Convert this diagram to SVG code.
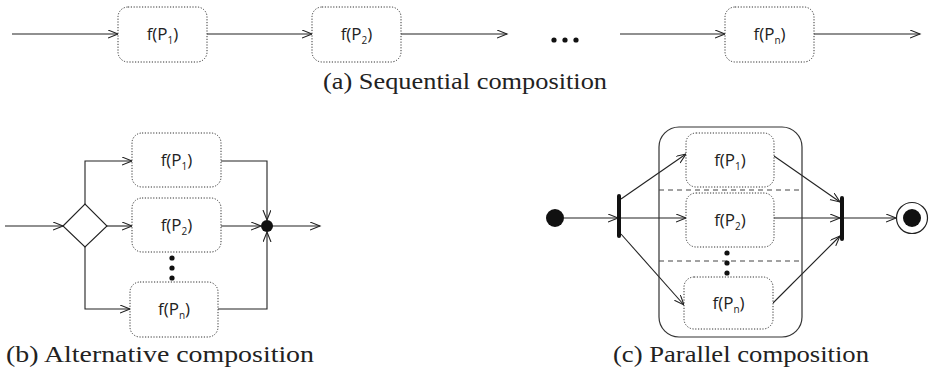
<svg xmlns="http://www.w3.org/2000/svg" width="930" height="375" viewBox="0 0 930 375">
<style>
.box{fill:#fff;stroke:#333;stroke-width:1;stroke-dasharray:1.2,1.6}
.lbl{font-family:"Open Sans","DejaVu Sans",sans-serif;font-size:17px;fill:#222;text-anchor:middle}
.sub{font-size:10px}
.ln{fill:none;stroke:#222;stroke-width:1.1;marker-end:url(#ah)}
.cap{font-family:"Liberation Serif","DejaVu Serif",serif;font-size:23px;fill:#222}
.dot{fill:#111}
</style>
<defs>
<marker id="ah" markerWidth="12" markerHeight="10" refX="10" refY="4" orient="auto" markerUnits="userSpaceOnUse">
<path d="M0,0 L10,4 L0,8" fill="none" stroke="#222" stroke-width="1.1"/>
</marker>
</defs>
<rect width="930" height="375" fill="#fff"/>

<g id="connectors">
<path class="ln" d="M12,34 H118"/>
<path class="ln" d="M207,34 H312"/>
<path class="ln" d="M401,34 H507"/>
<path class="ln" d="M620,34 H725"/>
<path class="ln" d="M814,34 H920"/>

<path class="ln" d="M5,226 H63"/>
<path class="ln" d="M85,204 V161 H132"/>
<path class="ln" d="M107,226 H132"/>
<path class="ln" d="M85,247 V309 H130"/>
<path class="ln" d="M221,161 H267 V220"/>
<path class="ln" d="M221,226 H261"/>
<path class="ln" d="M218,309 H267 V232"/>
<path class="ln" d="M267,226 H320"/>

<path class="ln" d="M564,218 H618"/>
<path class="ln" d="M621,199 L686,154"/>
<path class="ln" d="M621,218 H686"/>
<path class="ln" d="M621,234 L684,305"/>
<path class="ln" d="M774,156 L840,202"/>
<path class="ln" d="M774,218 H840"/>
<path class="ln" d="M773,303 L840,236"/>
<path class="ln" d="M844,218 H896"/>
</g>

<g id="seq-p1"><rect class="box" x="118" y="7" width="89" height="55" rx="10"/><text class="lbl" x="162.5" y="40">f(P<tspan class="sub" dy="4">1</tspan><tspan dy="-4">)</tspan></text></g>
<g id="seq-p2"><rect class="box" x="312" y="7" width="89" height="55" rx="10"/><text class="lbl" x="356.5" y="40">f(P<tspan class="sub" dy="4">2</tspan><tspan dy="-4">)</tspan></text></g>
<g id="seq-dots"><circle class="dot" cx="554" cy="40" r="2.6"/><circle class="dot" cx="565" cy="40" r="2.6"/><circle class="dot" cx="576" cy="40" r="2.6"/></g>
<g id="seq-pn"><rect class="box" x="725" y="7" width="89" height="55" rx="10"/><text class="lbl" x="769.5" y="40">f(P<tspan class="sub" dy="4">n</tspan><tspan dy="-4">)</tspan></text></g>
<text class="cap" x="323" y="89" textLength="284" lengthAdjust="spacingAndGlyphs">(a) Sequential composition</text>

<g id="alt-decision"><polygon points="63,226 85,204 107,226 85,247" fill="#fff" stroke="#222" stroke-width="1.1"/></g>
<g id="alt-p1"><rect class="box" x="132" y="133" width="89" height="54" rx="10"/><text class="lbl" x="176.5" y="166">f(P<tspan class="sub" dy="4">1</tspan><tspan dy="-4">)</tspan></text></g>
<g id="alt-p2"><rect class="box" x="132" y="198" width="89" height="54" rx="10"/><text class="lbl" x="176.5" y="231">f(P<tspan class="sub" dy="4">2</tspan><tspan dy="-4">)</tspan></text></g>
<g id="alt-dots"><circle class="dot" cx="172" cy="258" r="2.6"/><circle class="dot" cx="172" cy="268" r="2.6"/><circle class="dot" cx="172" cy="278" r="2.6"/></g>
<g id="alt-pn"><rect class="box" x="130" y="282" width="88" height="55" rx="10"/><text class="lbl" x="174" y="315">f(P<tspan class="sub" dy="4">n</tspan><tspan dy="-4">)</tspan></text></g>
<g id="alt-merge"><circle class="dot" cx="267" cy="226" r="6"/></g>
<text class="cap" x="6" y="362" textLength="308" lengthAdjust="spacingAndGlyphs">(b) Alternative composition</text>

<g id="par-start"><circle class="dot" cx="555" cy="218" r="9"/></g>
<g id="par-fork"><rect x="617" y="194" width="4" height="44" rx="2" fill="#111"/></g>
<g id="par-container"><rect x="659" y="127" width="143" height="210" rx="20" fill="none" stroke="#333" stroke-width="1.2"/>
<line x1="659" y1="190" x2="802" y2="190" stroke="#444" stroke-width="1" stroke-dasharray="5,4"/>
<line x1="659" y1="261" x2="802" y2="261" stroke="#444" stroke-width="1" stroke-dasharray="5,4"/></g>
<g id="par-p1"><rect class="box" x="686" y="133" width="88" height="54" rx="10"/><text class="lbl" x="730" y="166">f(P<tspan class="sub" dy="4">1</tspan><tspan dy="-4">)</tspan></text></g>
<g id="par-p2"><rect class="box" x="686" y="193" width="88" height="54" rx="10"/><text class="lbl" x="730" y="226">f(P<tspan class="sub" dy="4">2</tspan><tspan dy="-4">)</tspan></text></g>
<g id="par-dots"><circle class="dot" cx="727" cy="253" r="2.6"/><circle class="dot" cx="727" cy="263" r="2.6"/><circle class="dot" cx="727" cy="273" r="2.6"/></g>
<g id="par-pn"><rect class="box" x="684" y="277" width="89" height="52" rx="10"/><text class="lbl" x="728.5" y="309">f(P<tspan class="sub" dy="4">n</tspan><tspan dy="-4">)</tspan></text></g>
<g id="par-join"><rect x="840" y="196" width="4" height="45" rx="2" fill="#111"/></g>
<g id="par-end"><circle cx="912" cy="218" r="15.5" fill="#fff" stroke="#222" stroke-width="1.2"/><circle class="dot" cx="912" cy="218" r="9"/></g>
<text class="cap" x="613" y="362" textLength="256" lengthAdjust="spacingAndGlyphs">(c) Parallel composition</text>
</svg>
